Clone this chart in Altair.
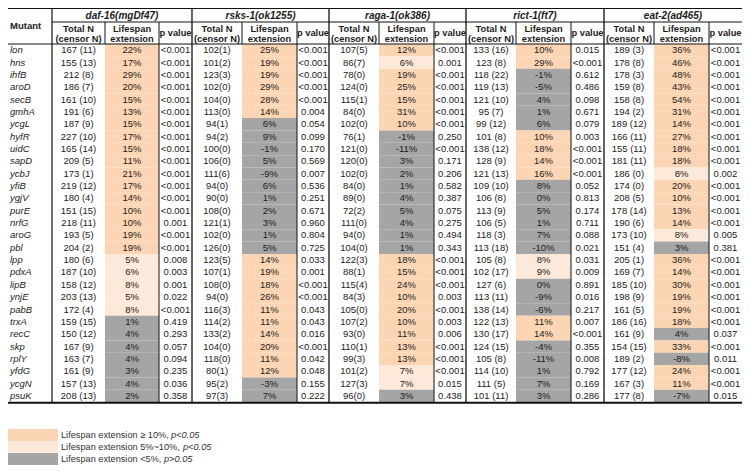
import altair as alt
import pandas as pd

# ---------------- data ----------------
mutants = ["lon", "hns", "ihfB", "aroD", "secB", "gmhA", "ycgL", "hyfR", "uidC", "sapD",
           "ycbJ", "yfiB", "ygjV", "purE", "nrfG", "aroG", "pbl", "lpp", "pdxA", "lipB",
           "ynjE", "pabB", "trxA", "recC", "skp", "rplY", "yfdG", "ycgN", "psuK"]

strains = ["daf-16(mgDf47)", "rsks-1(ok1255)", "raga-1(ok386)", "rict-1(ft7)", "eat-2(ad465)"]

daf16_n = ["167 (11)", "155 (13)", "212 (8)", "186 (7)", "161 (10)", "191 (6)", "187 (9)", "227 (10)",
           "165 (14)", "209 (5)", "173 (1)", "219 (12)", "180 (4)", "151 (15)", "218 (11)", "193 (5)",
           "204 (2)", "180 (6)", "187 (10)", "158 (12)", "203 (13)", "172 (4)", "159 (15)", "150 (12)",
           "167 (9)", "163 (7)", "161 (9)", "157 (13)", "208 (13)"]
daf16_ext = [22, 17, 29, 20, 15, 13, 15, 17, 15, 11, 21, 17, 14, 10, 10, 19, 19, 5, 6, 8, 5, 8,
             1, 4, 4, 4, 3, 4, 2]
daf16_p = ["<0.001", "<0.001", "<0.001", "<0.001", "<0.001", "<0.001", "<0.001", "<0.001", "<0.001",
           "<0.001", "<0.001", "<0.001", "<0.001", "<0.001", "0.001", "<0.001", "<0.001", "0.008",
           "0.003", "0.001", "0.022", "<0.001", "0.419", "0.293", "0.057", "0.094", "0.235", "0.036",
           "0.358"]

rsks1_n = ["102(1)", "101(2)", "123(3)", "102(0)", "104(0)", "113(0)", "94(1)", "94(2)", "100(0)",
           "106(0)", "111(6)", "94(0)", "90(0)", "108(0)", "121(1)", "102(0)", "126(0)", "123(5)",
           "107(1)", "108(0)", "94(0)", "116(3)", "114(2)", "133(2)", "104(0)", "118(0)", "80(1)",
           "95(2)", "97(3)"]
rsks1_ext = [25, 19, 19, 29, 28, 14, 6, 9, -1, 5, -9, 6, 1, 2, 3, 1, 5, 14, 19, 18, 26, 11, 11,
             14, 20, 11, 12, -3, 7]
rsks1_p = ["<0.001", "<0.001", "<0.001", "<0.001", "<0.001", "0.004", "0.054", "0.099", "0.170",
           "0.569", "0.007", "0.536", "0.251", "0.671", "0.960", "0.804", "0.725", "0.033", "0.001",
           "<0.001", "<0.001", "0.043", "0.043", "0.016", "<0.001", "0.042", "0.048", "0.155",
           "0.222"]

raga1_n = ["107(5)", "86(7)", "78(0)", "124(0)", "115(1)", "84(0)", "102(0)", "76(1)", "121(0)",
           "120(0)", "102(0)", "84(0)", "89(0)", "72(2)", "111(0)", "94(0)", "104(0)", "122(3)",
           "88(1)", "115(4)", "84(3)", "105(0)", "107(2)", "93(0)", "110(1)", "99(3)", "101(2)",
           "127(3)", "96(0)"]
raga1_ext = [12, 6, 19, 25, 15, 31, 10, -1, -11, 3, 2, 1, 4, 5, 4, 1, 1, 18, 15, 24, 10, 20, 10,
             11, 13, 13, 7, 7, 3]
raga1_p = ["<0.001", "0.001", "<0.001", "<0.001", "<0.001", "<0.001", "<0.001", "0.250", "<0.001",
           "0.171", "0.206", "0.582", "0.387", "0.075", "0.275", "0.494", "0.343", "<0.001",
           "<0.001", "<0.001", "0.003", "<0.001", "0.003", "0.006", "<0.001", "<0.001", "<0.001",
           "0.015", "0.438"]

rict1_n = ["133 (16)", "123 (8)", "118 (22)", "119 (13)", "121 (10)", "95 (7)", "99 (12)", "101 (8)",
           "138 (12)", "128 (9)", "121 (13)", "109 (10)", "106 (8)", "113 (9)", "106 (5)", "118 (3)",
           "113 (18)", "105 (8)", "102 (17)", "127 (6)", "113 (11)", "138 (14)", "122 (13)",
           "130 (17)", "124 (15)", "105 (8)", "114 (10)", "111 (5)", "101 (11)"]
rict1_ext = [10, 29, -1, -5, 4, 1, 6, 10, 18, 14, 16, 8, 0, 5, 1, 7, -10, 8, 9, 0, -9, -6, 11, 14,
             -4, -11, 1, 7, 3]
rict1_p = ["0.015", "<0.001", "0.612", "0.486", "0.098", "0.671", "0.079", "0.003", "<0.001",
           "<0.001", "<0.001", "0.052", "0.813", "0.174", "0.711", "0.088", "0.021", "0.031",
           "0.009", "0.891", "0.016", "0.217", "0.007", "<0.001", "0.355", "0.008", "0.792",
           "0.169", "0.286"]

eat2_n = ["189 (3)", "178 (8)", "178 (3)", "159 (8)", "158 (8)", "194 (2)", "189 (12)", "166 (11)",
          "155 (11)", "181 (11)", "186 (0)", "174 (0)", "208 (5)", "178 (14)", "190 (6)", "173 (10)",
          "151 (4)", "205 (1)", "169 (7)", "185 (10)", "198 (9)", "161 (5)", "186 (16)", "161 (9)",
          "154 (15)", "189 (2)", "177 (12)", "167 (3)", "177 (8)"]
eat2_ext = [36, 46, 48, 43, 54, 31, 14, 27, 18, 18, 8, 20, 10, 13, 14, 8, 3, 36, 14, 30, 19, 19,
            18, 4, 33, -8, 24, 11, -7]
eat2_p = ["<0.001", "<0.001", "<0.001", "<0.001", "<0.001", "<0.001", "<0.001", "<0.001", "<0.001",
          "<0.001", "0.002", "<0.001", "<0.001", "<0.001", "<0.001", "0.005", "0.381", "<0.001",
          "<0.001", "<0.001", "<0.001", "<0.001", "<0.001", "0.037", "<0.001", "0.011", "<0.001",
          "<0.001", "0.015"]

sub_headers = [("Total N", "(censor N)"), ("Lifespan", "extension"), ("p value", "")]
legend_labels = ["Lifespan extension \u2265 10%, ", "Lifespan extension 5%~10%, ",
                 "Lifespan extension <5%, "]
legend_italic = ["p<0.05", "p<0.05", "p>0.05"]
categories = ["hi", "mid", "lo"]

# ---------------- layout (page pixel coordinates) ----------------
FONT = "Liberation Sans, Arial, sans-serif"
X_LEFT, X_RIGHT = 8, 742
MUT_RIGHT = 52
COL_EDGES = [[52, 105, 159, 192], [192, 242, 297, 329], [329, 379, 434, 466],
             [466, 516, 571, 604], [604, 654, 709, 742]]
Y_TOP, Y_GROUP, Y_HEAD = 8.5, 22, 44
ROW_H = 12.35
Y_BOTTOM = Y_HEAD + ROW_H * len(mutants)
LEG_TOP, LEG_H = 429, 12
LEG_X0, LEG_X1, LEG_TX = 8, 58, 61
LEG_ITALIC_X = [171, 183, 164]
COLORS = ["#FCD5B4", "#FDE9D9", "#A5A5A5"]
TXT = "#1c1c1c"

xs = alt.Scale(domain=[8, 742], range=[0, 734], nice=False, zero=False)
ys = alt.Scale(domain=[8, 465], reverse=True, nice=False, zero=False)
cscale = alt.Scale(domain=categories, range=COLORS)


def pval(p):
    return 0.0005 if p.startswith("<") else float(p)


def category(ext, p):
    pv = pval(p)
    if pv < 0.05 and ext >= 10:
        return "hi"
    if pv < 0.05 and ext >= 5:
        return "mid"
    return "lo"


groups = [(daf16_n, daf16_ext, daf16_p), (rsks1_n, rsks1_ext, rsks1_p),
          (raga1_n, raga1_ext, raga1_p), (rict1_n, rict1_ext, rict1_p),
          (eat2_n, eat2_ext, eat2_p)]

cells, body_txt, mut_txt = [], [], []
for i, m in enumerate(mutants):
    y0 = Y_HEAD + i * ROW_H
    yc = y0 + ROW_H / 2
    mut_txt.append({"x": 10, "y": yc, "t": m})
    for g, (nn, ee, pp) in enumerate(groups):
        e = COL_EDGES[g]
        cells.append({"x": e[1], "x2": e[2], "y": y0, "y2": y0 + ROW_H,
                      "c": category(ee[i], pp[i])})
        body_txt.append({"x": (e[0] + e[1]) / 2, "y": yc, "t": nn[i]})
        body_txt.append({"x": (e[1] + e[2]) / 2, "y": yc, "t": f"{ee[i]}%"})
        body_txt.append({"x": (e[2] + e[3]) / 2, "y": yc, "t": pp[i]})

head_txt, title_txt = [], []
head_txt.append({"x": 10, "y": (Y_TOP + Y_HEAD) / 2, "t": "Mutant", "a": "left"})
for g, s in enumerate(strains):
    e = COL_EDGES[g]
    title_txt.append({"x": (e[0] + e[3]) / 2, "y": (Y_TOP + Y_GROUP) / 2 + 0.5, "t": s})
    for k, (l1, l2) in enumerate(sub_headers):
        xc = (e[k] + e[k + 1]) / 2
        if l2:
            head_txt.append({"x": xc, "y": Y_GROUP + 6.5, "t": l1, "a": "center"})
            head_txt.append({"x": xc, "y": Y_GROUP + 16.5, "t": l2, "a": "center"})
        else:
            head_txt.append({"x": xc, "y": (Y_GROUP + Y_HEAD) / 2, "t": l1, "a": "center"})

lines = []
lines.append({"x": X_LEFT, "x2": X_RIGHT, "y": Y_TOP, "y2": Y_TOP, "w": 1})
lines.append({"x": MUT_RIGHT, "x2": X_RIGHT, "y": Y_GROUP, "y2": Y_GROUP, "w": 1})
lines.append({"x": X_LEFT, "x2": X_RIGHT, "y": Y_HEAD, "y2": Y_HEAD, "w": 1})
lines.append({"x": X_LEFT, "x2": X_RIGHT, "y": Y_BOTTOM + 0.5, "y2": Y_BOTTOM + 0.5, "w": 2})
lines.append({"x": MUT_RIGHT, "x2": MUT_RIGHT, "y": Y_TOP, "y2": Y_BOTTOM, "w": 1.2})
for g in range(len(strains)):
    e = COL_EDGES[g]
    if g > 0:
        lines.append({"x": e[0], "x2": e[0], "y": Y_TOP, "y2": Y_BOTTOM, "w": 1.3})
    lines.append({"x": e[1], "x2": e[1], "y": Y_GROUP, "y2": Y_HEAD, "w": 1})
    lines.append({"x": e[2], "x2": e[2], "y": Y_GROUP, "y2": Y_BOTTOM, "w": 1})

leg_rect, leg_txt, leg_it = [], [], []
for k, c in enumerate(categories):
    y0 = LEG_TOP + k * LEG_H
    leg_rect.append({"x": LEG_X0, "x2": LEG_X1, "y": y0, "y2": y0 + LEG_H, "c": c})
    leg_txt.append({"x": LEG_TX, "y": y0 + LEG_H / 2, "t": legend_labels[k]})
    leg_it.append({"x": LEG_ITALIC_X[k], "y": y0 + LEG_H / 2, "t": legend_italic[k]})

X = lambda f="x": alt.X(f"{f}:Q", scale=xs, axis=None)
Y = lambda f="y": alt.Y(f"{f}:Q", scale=ys, axis=None)

cell_layer = alt.Chart(pd.DataFrame(cells)).mark_rect(strokeWidth=0).encode(
    x=X(), x2="x2:Q", y=Y(), y2="y2:Q",
    color=alt.Color("c:N", scale=cscale, legend=None))
leg_rect_layer = alt.Chart(pd.DataFrame(leg_rect)).mark_rect(strokeWidth=0).encode(
    x=X(), x2="x2:Q", y=Y(), y2="y2:Q",
    color=alt.Color("c:N", scale=cscale, legend=None))
line_layer = alt.Chart(pd.DataFrame(lines)).mark_rule(color="#111111").encode(
    x=X(), x2="x2:Q", y=Y(), y2="y2:Q",
    strokeWidth=alt.StrokeWidth("w:Q", scale=None))
body_layer = alt.Chart(pd.DataFrame(body_txt)).mark_text(
    font=FONT, fontSize=9.5, align="center", baseline="middle", color=TXT).encode(
    x=X(), y=Y(), text="t:N")
mut_layer = alt.Chart(pd.DataFrame(mut_txt)).mark_text(
    font=FONT, fontSize=9.5, fontStyle="italic", align="left", baseline="middle", color=TXT).encode(
    x=X(), y=Y(), text="t:N")
hdf = pd.DataFrame(head_txt)
head_left = alt.Chart(hdf[hdf.a == "left"]).mark_text(
    font=FONT, fontSize=9.5, fontWeight="bold", align="left", baseline="middle", color=TXT).encode(
    x=X(), y=Y(), text="t:N")
head_center = alt.Chart(hdf[hdf.a == "center"]).mark_text(
    font=FONT, fontSize=9.3, fontWeight="bold", align="center", baseline="middle", color=TXT).encode(
    x=X(), y=Y(), text="t:N")
title_layer = alt.Chart(pd.DataFrame(title_txt)).mark_text(
    font=FONT, fontSize=10, fontWeight="bold", fontStyle="italic", align="center",
    baseline="middle", color=TXT).encode(x=X(), y=Y(), text="t:N")
leg_txt_layer = alt.Chart(pd.DataFrame(leg_txt)).mark_text(
    font=FONT, fontSize=9.2, align="left", baseline="middle", color="#333333").encode(
    x=X(), y=Y(), text="t:N")
leg_it_layer = alt.Chart(pd.DataFrame(leg_it)).mark_text(
    font=FONT, fontSize=9.2, fontStyle="italic", align="left", baseline="middle",
    color="#333333").encode(x=X(), y=Y(), text="t:N")

chart = alt.layer(
    cell_layer, leg_rect_layer, line_layer, body_layer, mut_layer, head_left, head_center,
    title_layer, leg_txt_layer, leg_it_layer
).properties(
    width=734, height=457, padding=0, background="white",
    autosize=alt.AutoSizeParams(type="none")
).configure_view(stroke=None)

chart.save("out.html", embed_options={"renderer": "svg", "actions": False})
